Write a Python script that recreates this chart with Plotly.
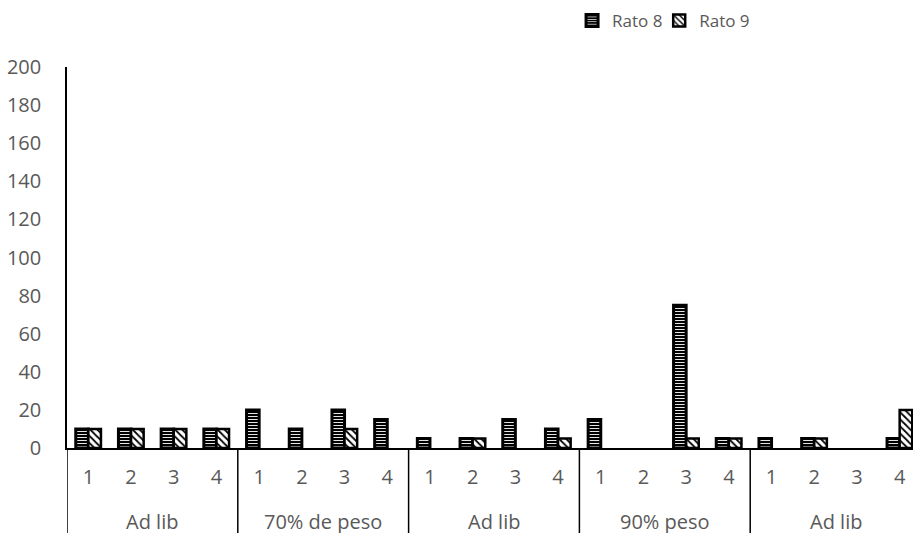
import plotly.graph_objects as go

groups = ["Ad lib", "70% de peso", "Ad lib", "90% peso", "Ad lib"]
sessions = ["1", "2", "3", "4"]
rato8 = [10, 10, 10, 10, 20, 10, 20, 15, 5, 5, 15, 10, 15, 0, 75, 5, 5, 5, 0, 5]
rato9 = [10, 10, 10, 10, 0, 0, 10, 0, 0, 5, 0, 5, 0, 0, 5, 5, 0, 5, 0, 20]
y_ticks = list(range(0, 201, 20))

n_s = len(sessions)
x_pos = list(range(len(groups) * n_s))
tick_text = sessions * len(groups)

GRAY = "#595959"
FONT = "Open Sans"

def nz(vals):
    return [v if v else None for v in vals]

fig = go.Figure()
fig.add_trace(go.Bar(
    name="Rato 8", x=x_pos, y=nz(rato8), legend="legend",
    marker=dict(color="black", line=dict(color="black", width=3),
                pattern=dict(shape="-", bgcolor="black", fgcolor="white",
                             size=3, solidity=0.3, fillmode="replace")),
))
fig.add_trace(go.Bar(
    name="Rato 9", x=x_pos, y=nz(rato9), legend="legend2",
    marker=dict(color="white", line=dict(color="black", width=2.5),
                pattern=dict(shape="\\", bgcolor="white", fgcolor="black",
                             size=5, solidity=0.35, fillmode="replace")),
))

W, H = 913, 533
ml, mt, mb = 67, 67, 85
plot_h = H - mt - mb
plot_w = W - ml
cat_px = 42.7
span = plot_w / cat_px

shapes = []
for gi in range(len(groups) + 1):
    xb = gi * n_s - 0.5
    shapes.append(dict(type="line", xref="x", yref="paper", x0=xb, x1=xb,
                       y0=0, y1=-mb / plot_h, line=dict(color="black", width=1.5)))

annotations = []
for gi, g in enumerate(groups):
    annotations.append(dict(text=g, xref="x", yref="paper",
                            x=gi * n_s + (n_s - 1) / 2, y=-73 / plot_h,
                            xanchor="center", yanchor="middle", showarrow=False,
                            font=dict(family=FONT, size=20, color=GRAY)))

leg_common = dict(orientation="h", y=1 + 46 / plot_h, xanchor="left", yanchor="middle",
                  font=dict(family=FONT, size=17, color=GRAY), bgcolor="rgba(0,0,0,0)",
                  itemwidth=30)

fig.update_layout(
    width=W, height=H,
    margin=dict(l=ml, r=0, t=mt, b=mb),
    paper_bgcolor="white", plot_bgcolor="white",
    barmode="group", bargap=0.41, bargroupgap=0,
    showlegend=True,
    legend=dict(x=0.597, **leg_common),
    legend2=dict(x=0.700, **leg_common),
    shapes=shapes, annotations=annotations,
    font=dict(family=FONT, color=GRAY),
)
fig.update_xaxes(range=[-0.5, -0.5 + span], tickvals=x_pos, ticktext=tick_text,
                 showline=True, linecolor="black", linewidth=1.5, ticks="",
                 tickfont=dict(family=FONT, size=20, color=GRAY),
                 ticklabelstandoff=10, showgrid=False, zeroline=False)
fig.update_yaxes(range=[0, 200], tickvals=y_ticks, showline=True, linecolor="black",
                 linewidth=1.5, ticks="", ticklabelstandoff=20,
                 tickfont=dict(family=FONT, size=20, color=GRAY),
                 showgrid=False, zeroline=False)

fig.write_html("out.html")
